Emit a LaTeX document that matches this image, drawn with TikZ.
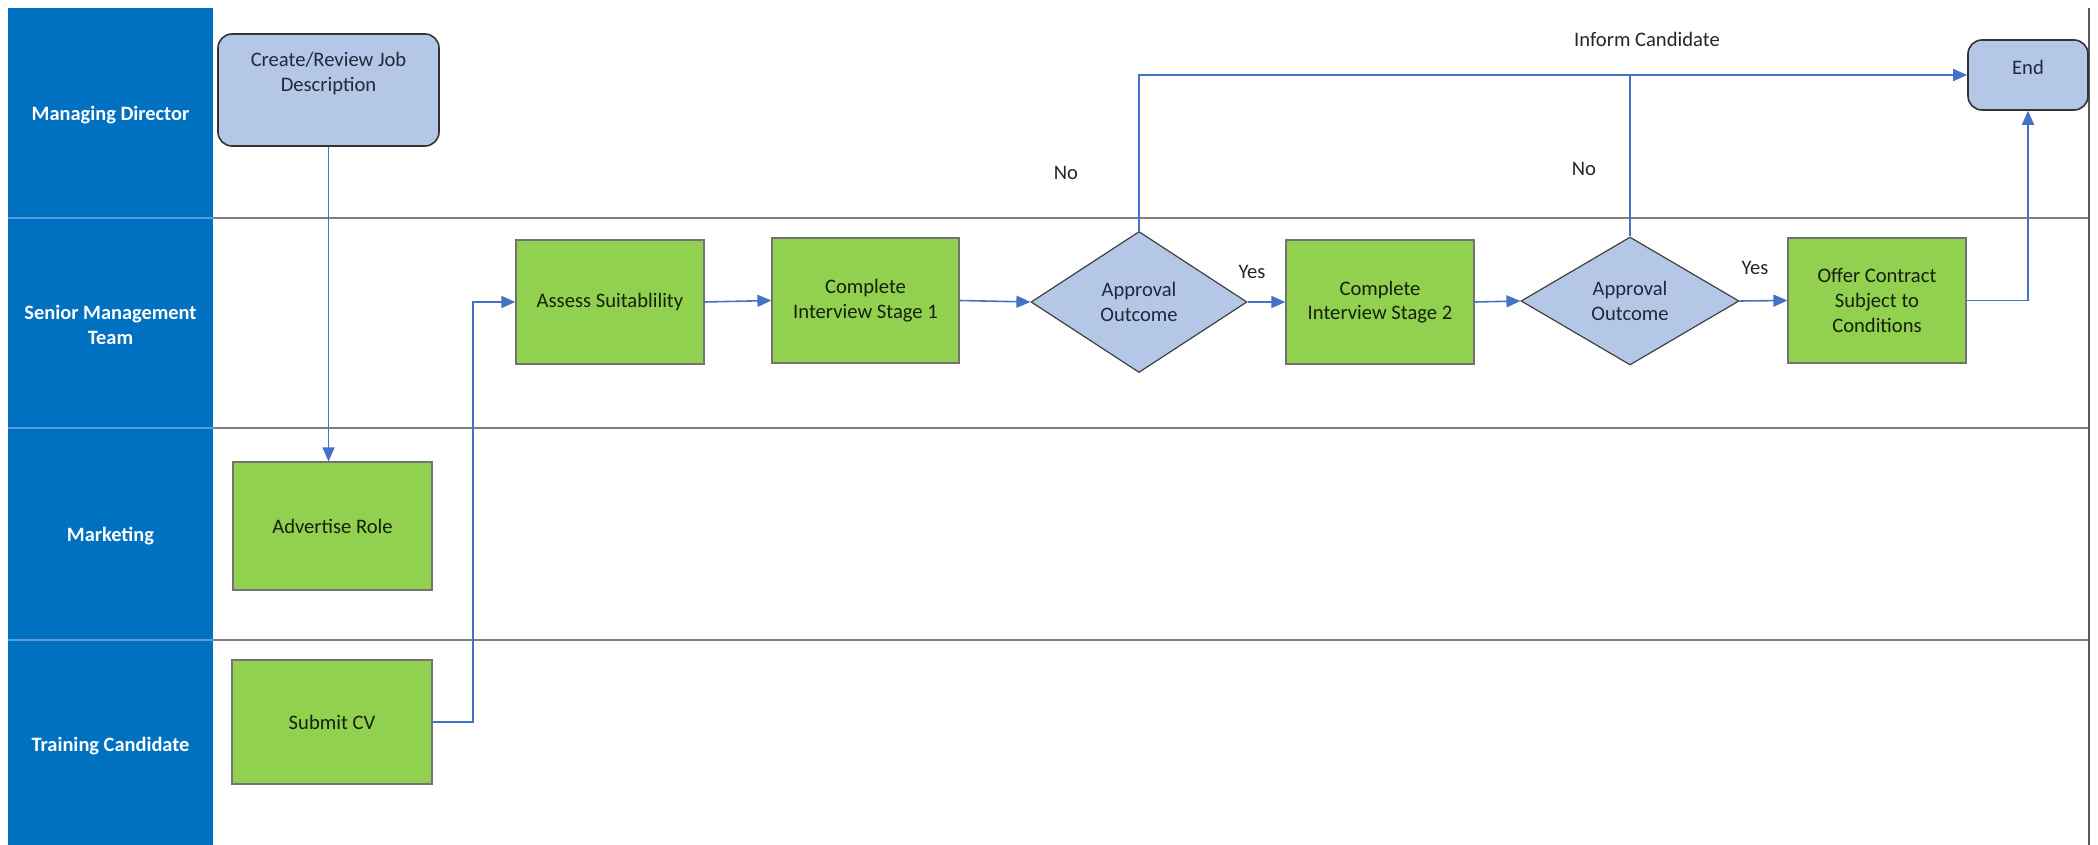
\documentclass[tikz,border=0pt]{standalone}
\usepackage{fontspec}
\setmainfont{Carlito}
\usetikzlibrary{shapes.geometric,arrows.meta}
\definecolor{lanebl}{HTML}{0070C0}
\definecolor{lanesep}{HTML}{5B9BD5}
\definecolor{boxgreen}{HTML}{92D050}
\definecolor{boxblue}{HTML}{B4C7E7}
\definecolor{conn}{HTML}{4472C4}
\definecolor{laneline}{HTML}{7F7F7F}
\definecolor{txtdark}{HTML}{1F2A3A}
\definecolor{txtgreen}{HTML}{14220A}
\tikzset{
  basefont/.style={font=\fontsize{10.3}{12.3}\selectfont},
  procbox/.style={basefont, draw=black!55, line width=0.6pt, fill=boxgreen, text=txtgreen, align=center, inner sep=2pt},
  decbox/.style={basefont, diamond, aspect=1.5, draw=black!75, line width=0.6pt, fill=boxblue, text=txtdark, align=center, inner sep=0pt},
  termbox/.style={basefont, rectangle, rounded corners=7pt, draw=black!80, line width=0.8pt, fill=boxblue, text=txtdark, align=center},
  lanelabel/.style={font=\fontsize{10.2}{12.8}\selectfont\bfseries, text=white, align=center},
  plainlabel/.style={basefont, text=black!85},
  flow/.style={draw=conn, line width=0.8pt, -{Triangle[length=7pt,width=6pt]}},
  flowplain/.style={draw=conn, line width=0.7pt},
  laneedge/.style={draw=laneline, line width=0.7pt}
}
\begin{document}
\begin{tikzpicture}[x=0.5pt,y=-0.5pt]
\useasboundingbox (0,0) rectangle (2098,845);
\fill[white] (0,0) rectangle (2098,845);
% lane header column
\fill[lanebl] (8,8) rectangle (213,845);
\foreach \yy in {218,428,640} {
  \draw[lanesep, line width=0.7pt] (8,\yy) -- (213,\yy);
  \draw[laneedge] (213,\yy) -- (2089,\yy);
}
\draw[draw=black!65, line width=0.8pt] (2089,8) -- (2089,845);
% lane labels
\node[lanelabel] (lmd) at (110.5,115) {Managing Director};
\node[lanelabel] (lsm) at (110.5,325) {Senior Management\\Team};
\node[lanelabel] (lmk) at (110.5,536) {Marketing};
\node[lanelabel] (ltc) at (110.5,746) {Training Candidate};
% nodes
\node[termbox, minimum width=110.5pt, minimum height=56pt,
  label={[basefont, text=txtdark, align=center, anchor=north, yshift=-6pt]north:Create/Review Job\\Description}]
  (create) at (328.5,90) {};
\node[termbox, minimum width=60pt, minimum height=35pt,
  label={[basefont, text=txtdark, yshift=4pt]center:End}]
  (end) at (2028,75) {};
\node[procbox, minimum width=99.5pt, minimum height=64pt] (advert) at (332.5,526) {Advertise Role};
\node[procbox, minimum width=100pt, minimum height=62pt] (submit) at (332,722) {Submit CV};
\node[procbox, minimum width=94pt, minimum height=62pt] (assess) at (610,302) {Assess Suitablility};
\node[procbox, minimum width=93.5pt, minimum height=62.5pt] (cis1) at (865.5,300.5) {Complete\\Interview Stage 1};
\node[decbox, minimum width=108pt, minimum height=70.5pt] (d1) at (1139,302) {Approval\\Outcome};
\node[procbox, minimum width=94pt, minimum height=62pt] (cis2) at (1380,302) {Complete\\Interview Stage 2};
\node[decbox, minimum width=109pt, minimum height=64pt] (d2) at (1630,301) {Approval\\Outcome};
\node[procbox, minimum width=89pt, minimum height=62.5pt] (offer) at (1877,300.5) {Offer Contract\\Subject to\\Conditions};
% edge labels
\node[plainlabel] (yes1) at (1252,272) {Yes};
\node[plainlabel] (yes2) at (1755,268) {Yes};
\node[plainlabel] (no1) at (1066,173) {No};
\node[plainlabel] (no2) at (1584,169) {No};
\node[plainlabel] (inform) at (1647,39) {Inform Candidate};
% connectors
\coordinate (cvturn) at (473,722);
\draw[flow] (create.south) -- (create.south |- advert.north);
\draw[flow] (submit.east) -- (submit.east -| cvturn) |- (assess.west);
\draw[flow] (assess.east) -- (cis1.west);
\draw[flow] (cis1.east) -- (d1.west);
\draw[flow] (d1.east) -- (cis2.west);
\draw[flow] (cis2.east) -- (d2.west);
\draw[flow] (d2.east) -- (offer.west);
\draw[flow] (offer.east) -| (end.south);
\draw[flow] (d1.north) |- (end.west);
\draw[flowplain] (d2.north) -- (d2.north |- end.west);
\end{tikzpicture}
\end{document}
